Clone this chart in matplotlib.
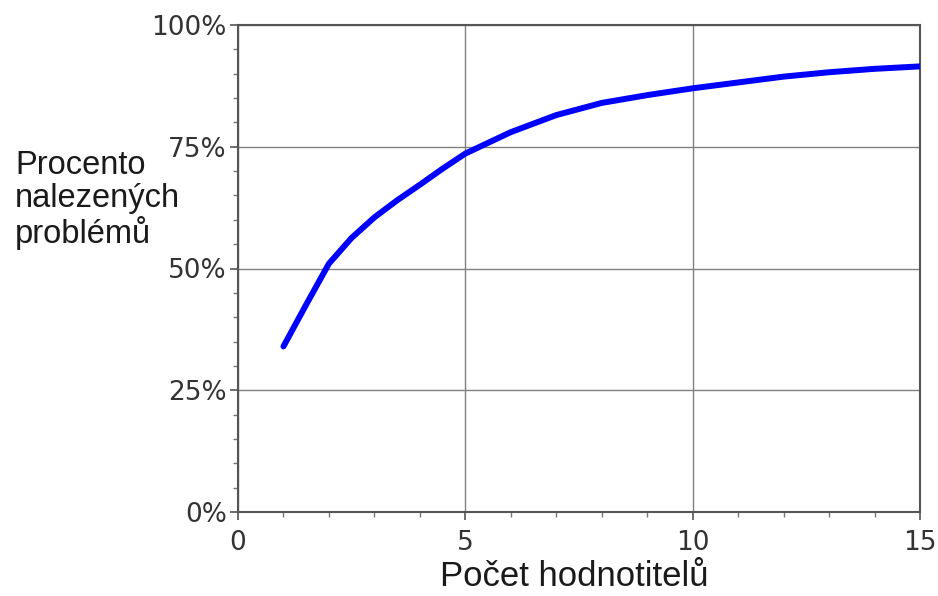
import matplotlib
matplotlib.use("Agg")
import matplotlib.pyplot as plt
from matplotlib.ticker import MultipleLocator, FuncFormatter

# evaluators vs. share of usability problems found
evaluators = [1, 1.5, 2, 2.5, 3, 3.5, 4, 4.5, 5, 6, 7, 8, 9, 10,
              11, 12, 13, 14, 15]
found_pct = [34.0, 42.6, 51.0, 56.3, 60.5, 64.0, 67.2, 70.5, 73.6, 78.0,
             81.5, 84.0, 85.6, 87.0, 88.2, 89.4, 90.3, 91.0, 91.5]

x_ticks = [0, 5, 10, 15]
y_ticks = [0, 25, 50, 75, 100]
y_label = "Procento\nnalezených\nproblémů"
x_label = "Počet hodnotitelů"


def main():
    fig = plt.figure(figsize=(9.38, 5.96), dpi=100)
    ax = fig.add_axes([238 / 938, 1 - 512 / 596, 682 / 938, 487 / 596])

    ax.plot(evaluators, found_pct, color="#0000ff", linewidth=4.3,
            solid_capstyle="round", solid_joinstyle="round", zorder=3)

    ax.set_xlim(0, 15)
    ax.set_ylim(0, 100)
    ax.set_xticks(x_ticks)
    ax.set_yticks(y_ticks)
    ax.xaxis.set_minor_locator(MultipleLocator(1))
    ax.yaxis.set_minor_locator(MultipleLocator(5))
    ax.yaxis.set_major_formatter(FuncFormatter(lambda v, p: "%d%%" % v))

    ax.grid(True, which="major", color="#808080", linewidth=1.0)
    for s in ax.spines.values():
        s.set_color("#555555")
        s.set_linewidth(1.5)

    ax.tick_params(which="major", direction="out", length=6, width=1.2,
                   color="#555555", labelsize=19, labelcolor="#333333")
    ax.tick_params(which="minor", direction="out", length=3.5, width=1.0,
                   color="#777777")
    ax.tick_params(axis="x", which="major", pad=7)
    ax.tick_params(axis="y", which="major", pad=2)
    for lab in ax.get_xticklabels() + ax.get_yticklabels():
        lab.set_family("DejaVu Sans")

    fig.text(15 / 938, 1 - 200 / 596, y_label, ha="left", va="center",
             fontsize=23.5, family="Liberation Sans", color="#1a1a1a",
             linespacing=1.08)
    fig.text(574 / 938, 1 - 577 / 596, x_label, ha="center", va="center",
             fontsize=25, family="Liberation Sans", color="#1a1a1a")

    fig.savefig("out.png", dpi=100, facecolor="white")


if __name__ == "__main__":
    main()
